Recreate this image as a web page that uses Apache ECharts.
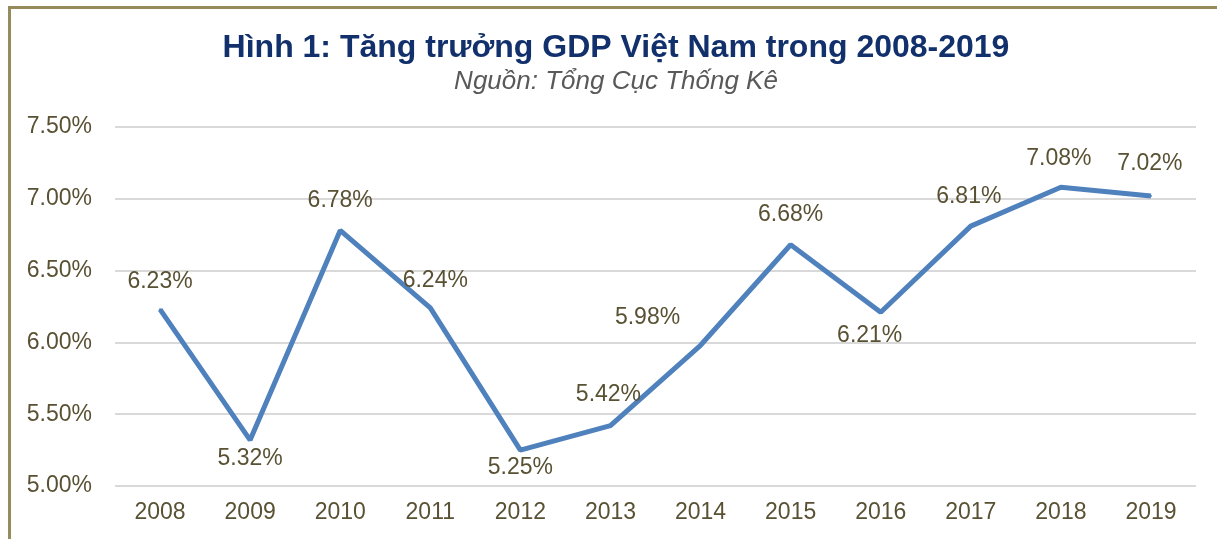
<!DOCTYPE html>
<html>
<head>
<meta charset="utf-8">
<script src="https://cdn.jsdelivr.net/npm/echarts@6/dist/echarts.min.js"></script>
<style>
  html, body { margin: 0; padding: 0; background: #fff; }
  #frame {
    position: absolute; left: 8px; top: 6px; width: 1220px; height: 540px;
    border-left: 3px solid #968b5c; border-top: 3px solid #968b5c;
  }
  #myChart { position: absolute; left: 0; top: 0; width: 1217px; height: 539px; }
</style>
</head>
<body>
<div id="frame"></div>
<div id="myChart"></div>
<script>
// số liệu tăng trưởng GDP (%)
const years = ["2008", "2009", "2010", "2011", "2012", "2013", "2014", "2015", "2016", "2017", "2018", "2019"];
const gdpGrowth = [6.23, 5.32, 6.78, 6.24, 5.25, 5.42, 5.98, 6.68, 6.21, 6.81, 7.08, 7.02];
const yTicks = [5.0, 5.5, 6.0, 6.5, 7.0, 7.5];

// vị trí nhãn, giống bản gốc
const labelPlace = [
  ["top", 0, 1], ["bottom", 0, -10], ["top", 0, -1], ["top", 5, 1],
  ["bottom", 0, -11], ["top", -2, -3], ["top", -53, 1], ["top", 0, -2],
  ["bottom", -11, -5], ["top", -2, -1], ["top", -2, 0], ["top", -1, -4]
];

const labelColor = "#595133";

const myChart = echarts.init(document.getElementById("myChart"));
myChart.setOption({
  animation: false,
  title: {
    text: "Hình 1: Tăng trưởng GDP Việt Nam trong 2008-2019",
    subtext: "Nguồn: Tổng Cục Thống Kê",
    left: 611,
    top: 27,
    itemGap: 5,
    textAlign: "center",
    textStyle: {
      fontFamily: "Liberation Sans",
      fontWeight: "bold",
      fontSize: 32,
      color: "#12306b"
    },
    subtextStyle: {
      fontFamily: "Liberation Sans",
      fontStyle: "italic",
      fontSize: 26,
      color: "#595959"
    }
  },
  grid: {
    left: 115,
    right: 21,
    top: 127,
    bottom: 53
  },
  xAxis: {
    type: "category",
    data: years,
    boundaryGap: true,
    axisLine: { show: false },
    axisTick: { show: false },
    axisLabel: {
      fontFamily: "Liberation Sans",
      fontSize: 23,
      color: labelColor,
      margin: 15
    }
  },
  yAxis: {
    type: "value",
    min: yTicks[0],
    max: yTicks[yTicks.length - 1],
    interval: 0.5,
    axisLine: { show: false },
    axisTick: { show: false },
    splitLine: { lineStyle: { color: "#d9d9d9", width: 2 } },
    axisLabel: {
      fontFamily: "Liberation Sans",
      fontSize: 23,
      color: labelColor,
      margin: 23,
      formatter: v => v.toFixed(2) + "%"
    }
  },
  series: [
    {
      type: "line",
      data: gdpGrowth.map((v, i) => ({
        value: v,
        label: {
          position: labelPlace[i][0],
          offset: [labelPlace[i][1], labelPlace[i][2]]
        }
      })),
      symbol: "circle",
      symbolSize: 2,
      showSymbol: true,
      itemStyle: { color: "#4f81bd" },
      lineStyle: { color: "#4f81bd", width: 5 },
      label: {
        show: true,
        distance: 16,
        fontFamily: "Liberation Sans",
        fontSize: 23,
        color: labelColor,
        formatter: p => p.value.toFixed(2) + "%"
      }
    }
  ]
});
</script>
</body>
</html>
